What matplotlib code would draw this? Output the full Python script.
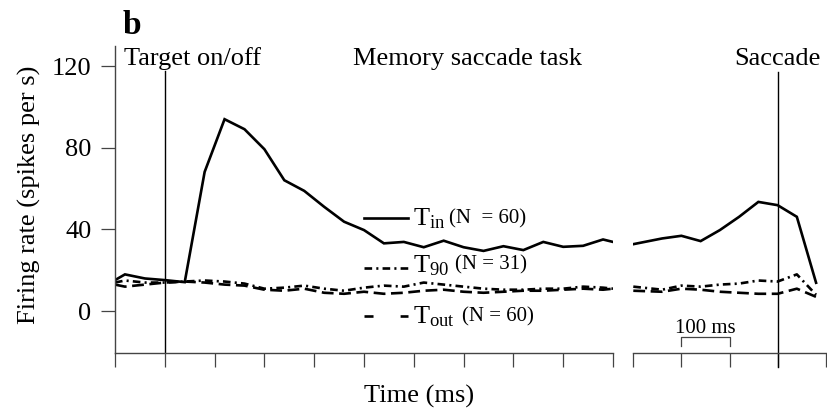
import numpy as np
import matplotlib
matplotlib.use("Agg")
from matplotlib import pyplot as plt

plt.rcParams['font.family'] = ['Liberation Serif', 'DejaVu Serif']
plt.rcParams['mathtext.fontset'] = 'custom'
plt.rcParams['mathtext.rm'] = 'Liberation Serif'
plt.rcParams['mathtext.it'] = 'Liberation Serif:italic'
plt.rcParams['lines.scale_dashes'] = False

# 資料 -------------------------------------------------------------------
# 左段: 以目標出現為 0 (ms)
t_left = [-100, -80, -40, 0, 40, 80, 120, 160, 200, 240, 280, 320, 360, 400,
          440, 480, 520, 560, 600, 640, 680, 720, 760, 800, 840, 880, 900]
tin_left = [15.2, 18.0, 16.0, 15.2, 14.2, 68.2, 94.0, 89.1, 79.3, 64.1, 58.9,
            51.1, 43.8, 39.7, 33.2, 33.9, 31.3, 34.5, 31.3, 29.5, 31.8, 29.9,
            33.9, 31.5, 32.0, 35.1, 33.9]
t90_left = [14.0, 15.0, 14.0, 14.0, 14.5, 15.0, 14.5, 13.5, 11.0, 11.5, 12.5,
            11.0, 10.0, 11.5, 12.5, 12.0, 14.0, 13.0, 12.0, 11.0, 10.5, 10.5,
            11.0, 11.0, 12.0, 11.5, 11.0]
tout_left = [13.0, 12.0, 13.0, 14.0, 14.5, 14.0, 13.0, 12.5, 10.5, 10.0, 11.0,
             9.0, 8.5, 9.5, 8.5, 9.0, 10.0, 10.5, 9.5, 9.0, 9.5, 10.0, 10.0,
             10.5, 11.0, 10.5, 11.0]

# 右段: 以眼跳為 0 (ms)
t_right = [-300, -240, -200, -160, -120, -80, -40, 0, 40, 80]
tin_right = [32.8, 35.6, 36.9, 34.3, 39.7, 46.2, 53.5, 51.9, 46.2, 13.9]
t90_right = [12.0, 10.5, 12.5, 12.0, 13.0, 13.5, 15.0, 14.5, 18.0, 8.0]
tout_right = [10.0, 9.5, 11.0, 10.5, 9.5, 9.0, 8.5, 8.5, 11.0, 7.0]

y_ticks = [0, 40, 80, 120]

# 作圖 -------------------------------------------------------------------
W, H = 827, 416
fig = plt.figure(figsize=(W / 100, H / 100), dpi=100)

def box(x0, x1, ytop, ybot):
    return [x0 / W, 1 - ybot / H, (x1 - x0) / W, (ybot - ytop) / H]

ax1 = fig.add_axes(box(115, 613, 45.7, 353))
ax2 = fig.add_axes(box(633.3, 825.7, 45.7, 353))

ylim = (-20.5, 130)
axis_col = '#444444'
fs = 19

for ax in (ax1, ax2):
    ax.set_ylim(*ylim)
    ax.spines['top'].set_visible(False)
    ax.spines['right'].set_visible(False)
    for s in ax.spines.values():
        s.set_color(axis_col)
        s.set_linewidth(1.0)
    ax.tick_params(direction='out', length=10, width=0.9, color=axis_col,
                   labelsize=fs, pad=7)
    ax.patch.set_alpha(0)

ax1.set_xlim(-100, 900)
ax1.set_xticks(np.arange(-100, 901, 100))
ax1.set_xticklabels([])
ax1.set_yticks(y_ticks)

ax2.set_xlim(-300, 100)
ax2.set_xticks(np.arange(-300, 101, 100))
ax2.set_xticklabels([])
ax2.spines['left'].set_visible(False)
ax2.set_yticks([])

lw = 1.9
ds_90 = (5.5, 3, 1.5, 3)
ds_out = (8.5, 4)

ax1.plot(t_left, tin_left, color='k', lw=lw, solid_joinstyle='miter')
ax1.plot(t_left, t90_left, color='k', lw=lw, dashes=ds_90)
ax1.plot(t_left, tout_left, color='k', lw=lw, dashes=ds_out)
ax2.plot(t_right, tin_right, color='k', lw=lw, solid_joinstyle='miter')
ax2.plot(t_right, t90_right, color='k', lw=lw, dashes=ds_90)
ax2.plot(t_right, tout_right, color='k', lw=lw, dashes=ds_out)

# 事件線
ax1.plot([0, 0], [ylim[0], 117.5], color='k', lw=1.0)
ax2.plot([0, 0], [ylim[0] - 7, 116.9], color='k', lw=1.0, clip_on=False)

# 文字
ax1.text(-82, 120.5, 'Target on/off', fontsize=fs, va='baseline', ha='left')
ax1.text(378, 120.5, 'Memory saccade task', fontsize=fs, va='baseline', ha='left')
ax2.text(89, 120.5, 'Saccade', fontsize=fs, va='baseline', ha='right')

# 圖例 (手動)
leg = [('T$_{\\mathrm{in}}$', '(N  = 60)', 45.5, 42.1, 570, None),
       ('T$_{90}$', '(N = 31)', 21.2, 19.2, 582, ds_90),
       ('T$_{\\mathrm{out}}$', '(N = 60)', -2.3, -6.0, 596, (6.5, 19.5))]
for name, n_txt, ly, by, nx, d in leg:
    if d is None:
        ax1.plot([400, 488], [ly, ly], color='k', lw=lw)
    else:
        ax1.plot([400, 488], [ly, ly], color='k', lw=lw, dashes=d)
    ax1.text(498, by, name, fontsize=fs, va='baseline', ha='left')
    ax1.text(nx, by + 1.0, n_txt, fontsize=15, va='baseline', ha='left')

# 比例尺 100 ms
ax2.plot([-200, -200, -100, -100], [-17.1, -12.9, -12.9, -17.1], color=axis_col, lw=0.9)
ax2.text(-150, -10.5, '100 ms', fontsize=15, ha='center', va='baseline')

fig.text(123 / W, 1 - 34 / H, 'b', fontsize=24, fontweight='bold', va='baseline')
fig.text(419 / W, 1 - 403 / H, 'Time (ms)', fontsize=fs, ha='center', va='baseline')
fig.text(29 / W, 1 - 195 / H, 'Firing rate (spikes per s)', fontsize=fs,
         rotation=90, ha='center', va='center')

fig.savefig('out.png', dpi=100)
